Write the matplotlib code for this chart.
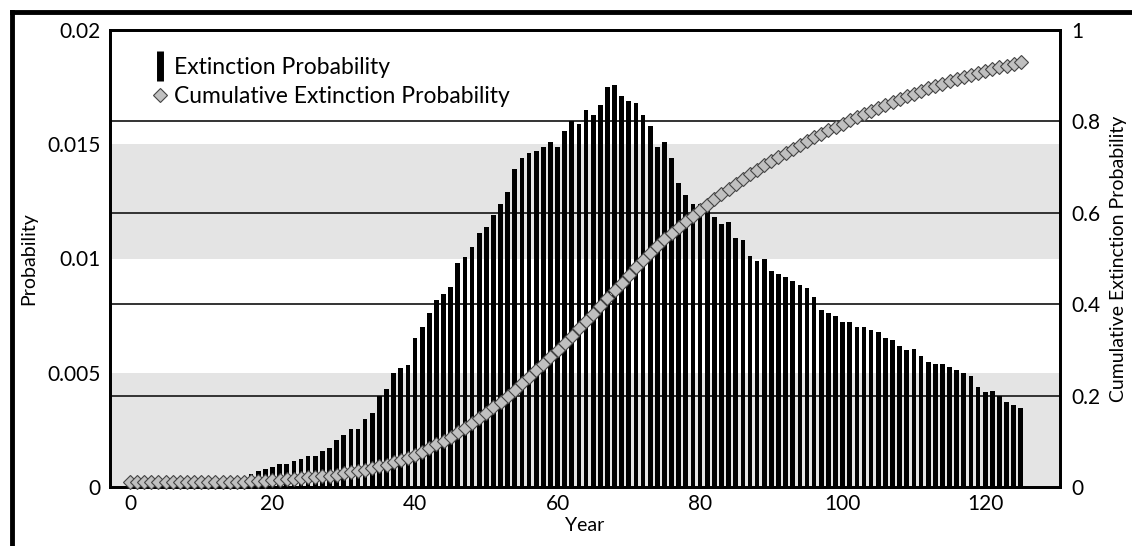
import matplotlib
matplotlib.use("Agg")
import matplotlib.pyplot as plt
from matplotlib.lines import Line2D

plt.rcParams['font.family'] = ['Lato', 'DejaVu Sans']

# values
years = list(range(126))

extinction = [0.0] * 17 + [
    0.00057, 0.00069, 0.0008, 0.00089, 0.00102, 0.00102, 0.00115, 0.00124, 0.00137, 0.00137,  # 17-26
    0.00159, 0.0017, 0.00204, 0.00226, 0.00252, 0.00252, 0.00296, 0.00323, 0.00398, 0.00429,  # 27-36
    0.00499, 0.00521, 0.00536, 0.0065, 0.00699, 0.0076, 0.00818, 0.00845, 0.00874, 0.00981,    # 37-46
    0.01006, 0.0105, 0.0111, 0.0114, 0.0119, 0.0124, 0.0129, 0.0139, 0.0144, 0.0146,           # 47-56
    0.0147, 0.0149, 0.0151, 0.0149, 0.0156, 0.016, 0.0159, 0.0165, 0.0163, 0.0167,             # 57-66
    0.0175, 0.0176, 0.0171, 0.0169, 0.0168, 0.0163, 0.0158, 0.0149, 0.0151, 0.0144,            # 67-76
    0.0133, 0.0128, 0.0124, 0.0124, 0.0121, 0.0118, 0.0115, 0.0116, 0.0109, 0.0108,            # 77-86
    0.0101, 0.0099, 0.01, 0.00946, 0.00931, 0.0092, 0.009, 0.00886, 0.00873, 0.0083,           # 87-96
    0.00774, 0.00761, 0.00748, 0.00722, 0.00722, 0.00701, 0.00701, 0.00689, 0.0068, 0.00652,   # 97-106
    0.00643, 0.00617, 0.00598, 0.00606, 0.00573, 0.00546, 0.00538, 0.00538, 0.00524, 0.0051,   # 107-116
    0.005, 0.00486, 0.00438, 0.00417, 0.0042, 0.00397, 0.00371, 0.0036, 0.00347,               # 117-125
]

cumulative = [0.012] * 17 + [
    0.013, 0.013, 0.014, 0.015, 0.016, 0.017, 0.018, 0.019, 0.021, 0.022,   # 17-26
    0.024, 0.025, 0.027, 0.030, 0.032, 0.035, 0.037, 0.041, 0.045, 0.049,   # 27-36
    0.054, 0.059, 0.064, 0.071, 0.077, 0.085, 0.093, 0.101, 0.110, 0.120,   # 37-46
    0.130, 0.140, 0.151, 0.162, 0.174, 0.186, 0.199, 0.213, 0.227, 0.241,   # 47-56
    0.256, 0.270, 0.285, 0.300, 0.315, 0.331, 0.347, 0.363, 0.379, 0.396,   # 57-66
    0.413, 0.430, 0.447, 0.464, 0.481, 0.497, 0.512, 0.527, 0.542, 0.556,   # 67-76
    0.569, 0.582, 0.594, 0.606, 0.618, 0.630, 0.641, 0.653, 0.663, 0.674,   # 77-86
    0.684, 0.694, 0.704, 0.713, 0.722, 0.731, 0.740, 0.749, 0.758, 0.766,   # 87-96
    0.773, 0.781, 0.788, 0.795, 0.803, 0.809, 0.816, 0.823, 0.830, 0.836,   # 97-106
    0.843, 0.849, 0.855, 0.861, 0.866, 0.872, 0.877, 0.882, 0.888, 0.893,   # 107-116
    0.897, 0.902, 0.907, 0.911, 0.915, 0.919, 0.922, 0.926, 0.929,          # 117-125
]

left_ticks = [0, 0.005, 0.01, 0.015, 0.02]
left_labels = ['0', '0.005', '0.01', '0.015', '0.02']
right_ticks = [0, 0.2, 0.4, 0.6, 0.8, 1]
right_labels = ['0', '0.2', '0.4', '0.6', '0.8', '1']
year_ticks = [0, 20, 40, 60, 80, 100, 120]

W, H = 1132, 546
fig = plt.figure(figsize=(W / 100, H / 100), dpi=100)
ax = fig.add_axes([110 / W, 1 - 487 / H, 950 / W, 457 / H])
ax2 = ax.twinx()

ax.set_xlim(-2.8, 130.5)
ax.set_ylim(0, 0.02)
ax2.set_ylim(0, 1)

# grey bands on the left scale
ax.axhspan(0, 0.005, color='#e4e4e4', lw=0, zorder=0)
ax.axhspan(0.01, 0.015, color='#e4e4e4', lw=0, zorder=0)

# horizontal lines at the right-axis ticks, kept behind the bars
for t in right_ticks[1:-1]:
    ax.plot([0, 1], [t, t], transform=ax2.get_yaxis_transform(),
            color='#333333', lw=1.4, zorder=1)

ax.bar(years, extinction, width=0.66, color='black', zorder=2)
ax2.plot(years, cumulative, ls='none', marker='D', ms=7,
         mfc='#c0c0c0', mec='#444444', mew=0.8, clip_on=False, zorder=3)

ax.set_xticks(year_ticks)
ax.set_yticks(left_ticks)
ax.set_yticklabels(left_labels)
ax2.set_yticks(right_ticks)
ax2.set_yticklabels(right_labels)

ax.tick_params(axis='y', length=0, labelsize=15, pad=7)
ax.tick_params(axis='x', length=0, labelsize=15, pad=5)
ax2.tick_params(axis='y', length=0, labelsize=15, pad=8)

for a in (ax, ax2):
    for s in a.spines.values():
        s.set_linewidth(2)
        s.set_color('black')

ax.set_xlabel('Year', fontsize=14)
ax.set_ylabel('Probability', fontsize=14)
ax2.set_ylabel('Cumulative Extinction Probability', fontsize=14)
ax.xaxis.set_label_coords(0.5, -0.066)
ax.yaxis.set_label_coords(-0.077, 0.5)
ax2.yaxis.set_label_coords(1.053, 0.5)

handles = [
    Line2D([], [], ls='none', marker='|', ms=22, mew=5, color='black'),
    Line2D([], [], ls='none', marker='D', ms=7.5, mfc='#c0c0c0', mec='#444444', mew=0.8),
]
ax2.legend(handles, ['Extinction Probability', 'Cumulative Extinction Probability'],
           loc='upper left', bbox_to_anchor=(0.036, 0.96), frameon=False,
           fontsize=16.5, handlelength=0.6, handletextpad=0.3, labelspacing=0.35,
           borderaxespad=0)

# thick frame along the top and left edges of the picture
fig.add_artist(Line2D([12 / W, 12 / W], [0, 1 - 12 / H], transform=fig.transFigure,
                      color='black', lw=3.5))
fig.add_artist(Line2D([12 / W, 1], [1 - 12 / H, 1 - 12 / H], transform=fig.transFigure,
                      color='black', lw=3.5))

fig.savefig('out.png', dpi=100)
